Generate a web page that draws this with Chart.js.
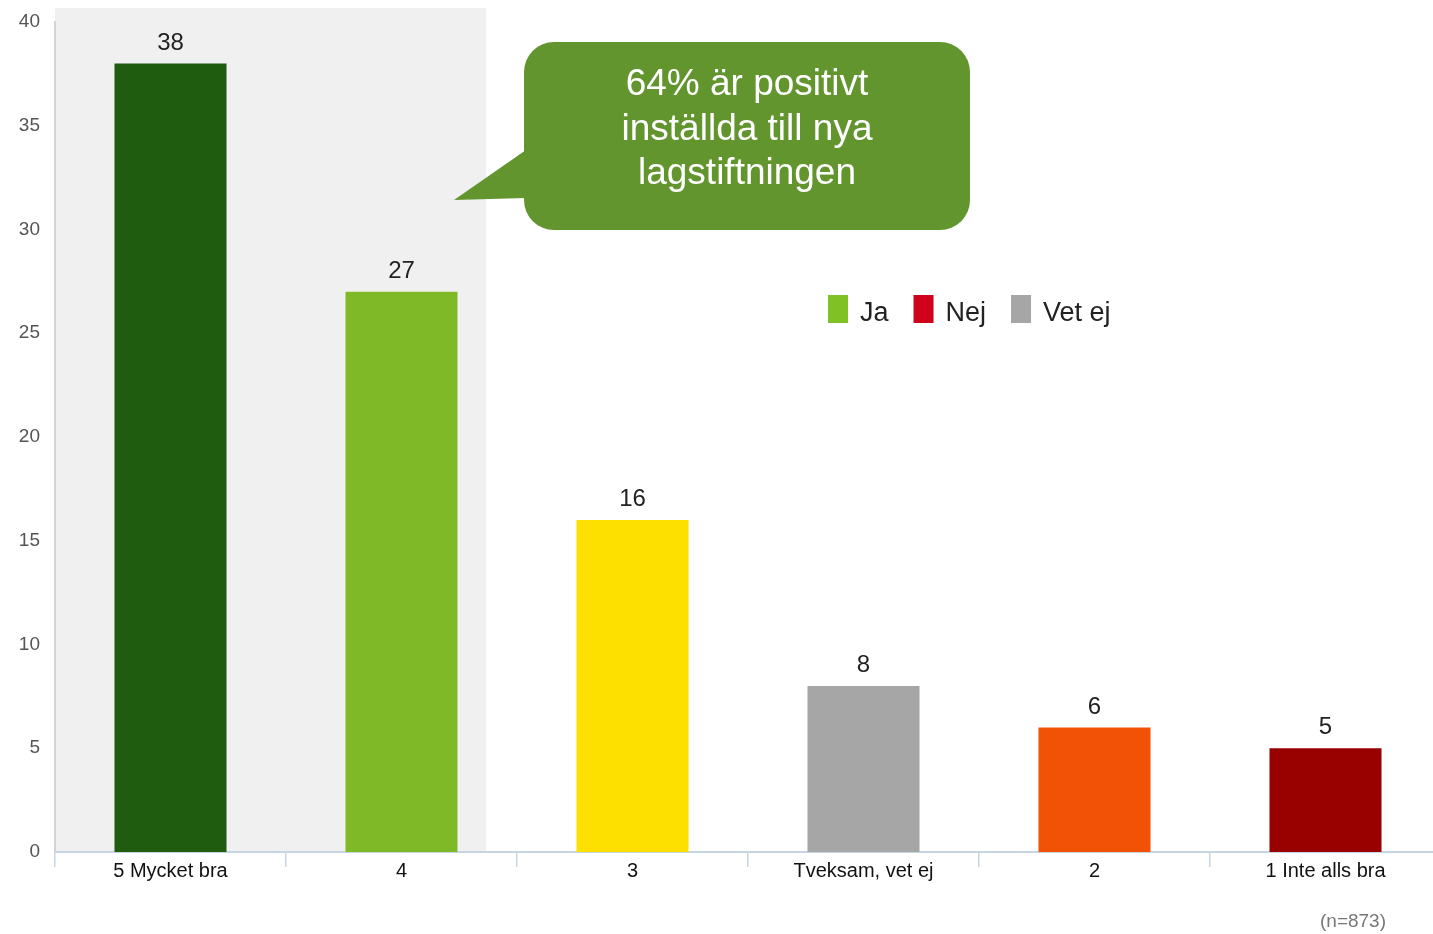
<!DOCTYPE html>
<html>
<head>
<meta charset="utf-8">
<script src="https://cdn.jsdelivr.net/npm/chart.js@4.4.1/dist/chart.umd.min.js"></script>
<style>
html,body{margin:0;padding:0;background:#fff;overflow:hidden;width:1433px;height:934px;}
#c{display:block;}
</style>
</head>
<body>
<canvas id="c" width="1441" height="934"></canvas>
<script>
const categories = ['5 Mycket bra', '4', '3', 'Tveksam, vet ej', '2', '1 Inte alls bra'];
const values = [38, 27, 16, 8, 6, 5];
const barColors = ['#1f5c10', '#80b927', '#fde000', '#a6a6a6', '#f15206', '#990000'];
const yMin = 0, yMax = 40, yStep = 5;
const legendLabels = ['Ja', 'Nej', 'Vet ej'];
const legendColors = ['#80c125', '#d0021b', '#a6a6a6'];
const calloutLines = ['64% är positivt', 'inställda till nya', 'lagstiftningen'];
const sampleNote = '(n=873)';
const shadeEndCategory = 1.366; // shaded band ends inside category "4"
const shadeTopValue = 40.67;

const FONT = '"Liberation Sans", Arial, sans-serif';

const bandPlugin = {
  id: 'band',
  beforeDraw(chart) {
    const {ctx, chartArea, scales} = chart;
    const x0 = chartArea.left;
    const x1 = scales.x.getPixelForValue(shadeEndCategory);
    const y0 = scales.y.getPixelForValue(shadeTopValue);
    ctx.save();
    ctx.fillStyle = '#f0f0f0';
    ctx.fillRect(x0, y0, x1 - x0, chartArea.bottom - y0);
    ctx.restore();
  }
};

const valueLabels = {
  id: 'valueLabels',
  afterDatasetsDraw(chart) {
    const {ctx} = chart;
    const meta = chart.getDatasetMeta(0);
    ctx.save();
    ctx.font = '24px ' + FONT;
    ctx.fillStyle = '#222';
    ctx.textAlign = 'center';
    ctx.textBaseline = 'alphabetic';
    meta.data.forEach((bar, i) => {
      ctx.fillText(String(values[i]), bar.x, bar.y - 14);
    });
    ctx.restore();
  }
};

const extras = {
  id: 'extras',
  afterDraw(chart) {
    const {ctx} = chart;
    ctx.save();
    // callout bubble
    ctx.fillStyle = '#63952f';
    ctx.beginPath();
    ctx.roundRect(524, 42, 446, 188, 30);
    ctx.fill();
    ctx.beginPath();
    ctx.moveTo(526, 150);
    ctx.lineTo(454, 200);
    ctx.lineTo(526, 198);
    ctx.closePath();
    ctx.fill();
    ctx.fillStyle = '#ffffff';
    ctx.font = '37px ' + FONT;
    ctx.textAlign = 'center';
    ctx.textBaseline = 'middle';
    calloutLines.forEach((t, i) => ctx.fillText(t, 747, 85 + i * 44.5));

    // legend
    ctx.font = '27px ' + FONT;
    ctx.textAlign = 'left';
    ctx.textBaseline = 'alphabetic';
    let x = 828;
    legendLabels.forEach((t, i) => {
      ctx.fillStyle = legendColors[i];
      ctx.fillRect(x, 295, 20, 28);
      ctx.fillStyle = '#222';
      ctx.fillText(t, x + 32, 321);
      x += 32 + ctx.measureText(t).width + 25;
    });

    // sample note
    ctx.font = '19px ' + FONT;
    ctx.fillStyle = '#777';
    ctx.textAlign = 'right';
    ctx.textBaseline = 'middle';
    ctx.fillText(sampleNote, 1386, 922);
    ctx.restore();
  }
};

new Chart(document.getElementById('c'), {
  type: 'bar',
  data: {
    labels: categories,
    datasets: [{
      data: values,
      backgroundColor: barColors,
      borderWidth: 0,
      barPercentage: 0.485,
      categoryPercentage: 1.0
    }]
  },
  options: {
    responsive: false,
    devicePixelRatio: 1,
    animation: false,
    layout: {padding: {top: 22, right: 0, left: 0, bottom: 0}},
    plugins: {legend: {display: false}, tooltip: {enabled: false}},
    scales: {
      x: {
        offset: true,
        grid: {display: true, drawOnChartArea: false, drawTicks: true, tickLength: 15, color: '#c5d5e6', offset: true, lineWidth: 1.5},
        border: {display: true, color: '#c5d5e6', width: 2},
        ticks: {font: {family: FONT, size: 20}, color: '#111', padding: -8, maxRotation: 0, autoSkip: false},
        afterFit: s => { s.height = 82; s.paddingLeft = 0; s.paddingRight = 0; }
      },
      y: {
        min: yMin, max: yMax,
        ticks: {stepSize: yStep, font: {family: FONT, size: 19}, color: '#555', padding: 15},
        grid: {display: false, drawTicks: false},
        border: {display: true, color: '#d4d4d4', width: 2},
        afterFit: s => { s.width = 55; s.paddingTop = 0; s.paddingBottom = 0; }
      }
    }
  },
  plugins: [bandPlugin, valueLabels, extras]
});
</script>
</body>
</html>
